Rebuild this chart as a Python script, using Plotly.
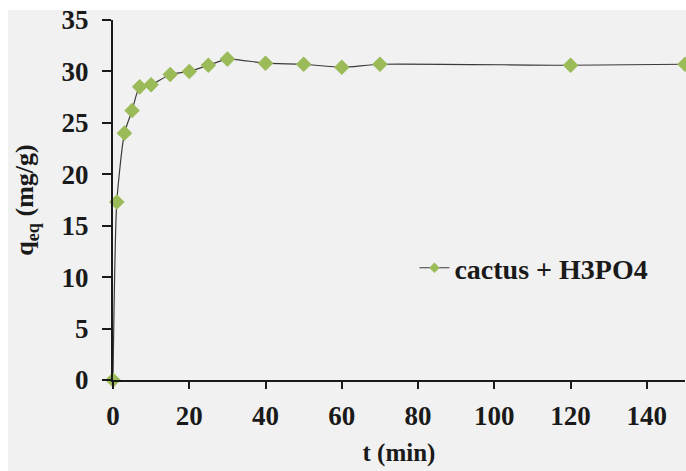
import plotly.graph_objects as go

t_min = [0, 1, 3, 5, 7, 10, 15, 20, 25, 30, 40, 50, 60, 70, 120, 150]
q_eq = [0, 17.3, 24.0, 26.2, 28.5, 28.7, 29.7, 30.0, 30.6, 31.2, 30.8, 30.7, 30.4, 30.7, 30.6, 30.7]
series_name = "cactus + H3PO4"
x_ticks = [0, 20, 40, 60, 80, 100, 120, 140]
y_ticks = [0, 5, 10, 15, 20, 25, 30, 35]

font_family = "Liberation Serif"
marker_color = "#9bbb59"
line_color = "#3a3a3a"

fig = go.Figure()
fig.add_trace(go.Scatter(
    x=t_min, y=q_eq, name=series_name, mode="lines+markers",
    line=dict(color=line_color, width=1.2, shape="spline", smoothing=0.6),
    marker=dict(symbol="diamond", size=12, color=marker_color, line=dict(width=0)),
    cliponaxis=False, showlegend=False,
))
# legend entry (smaller marker, as in the reference legend)
fig.add_trace(go.Scatter(
    x=[None], y=[None], name=f"<b>{series_name}</b>", mode="lines+markers",
    line=dict(color=line_color, width=1.2),
    marker=dict(symbol="diamond", size=8, color=marker_color, line=dict(width=0)),
))

fig.update_layout(
    width=686, height=471,
    margin=dict(l=113, r=1, t=20, b=91),
    paper_bgcolor="white",
    plot_bgcolor="rgba(0,0,0,0)",
    font=dict(family=font_family, size=20, color="#1a1a1a"),
    showlegend=True,
    legend=dict(x=0.527, y=0.311, xanchor="left", yanchor="middle",
                bgcolor="rgba(0,0,0,0)",
                font=dict(family=font_family, size=28, color="#1a1a1a")),
    shapes=[dict(type="rect", xref="paper", yref="paper",
                 x0=-0.1836, x1=1.05, y0=-0.3, y1=1.0278,
                 fillcolor="#f1f1f1", line=dict(width=0), layer="below")],
)

fig.update_xaxes(
    range=[0, 150], tickvals=x_ticks, ticktext=[f"<b>{v}</b>" for v in x_ticks],
    tickfont=dict(size=27),
    showline=True, linecolor="#1a1a1a", linewidth=2,
    ticks="outside", ticklen=7, tickwidth=2, tickcolor="#1a1a1a",
    ticklabelstandoff=4,
    showgrid=False, zeroline=False,
    title=dict(text="<b>t (min)</b>", standoff=13, font=dict(size=25)),
)
fig.update_yaxes(
    range=[0, 35], tickvals=y_ticks, ticktext=[f"<b>{v}</b>" for v in y_ticks],
    tickfont=dict(size=27),
    showline=True, linecolor="#1a1a1a", linewidth=2,
    ticks="outside", ticklen=9, tickwidth=2, tickcolor="#1a1a1a",
    ticklabelstandoff=8,
    showgrid=False, zeroline=False,
    title=dict(text="<b>q<sub>eq</sub> (mg/g)</b>", standoff=20, font=dict(size=26)),
)

fig.write_html("out.html")
